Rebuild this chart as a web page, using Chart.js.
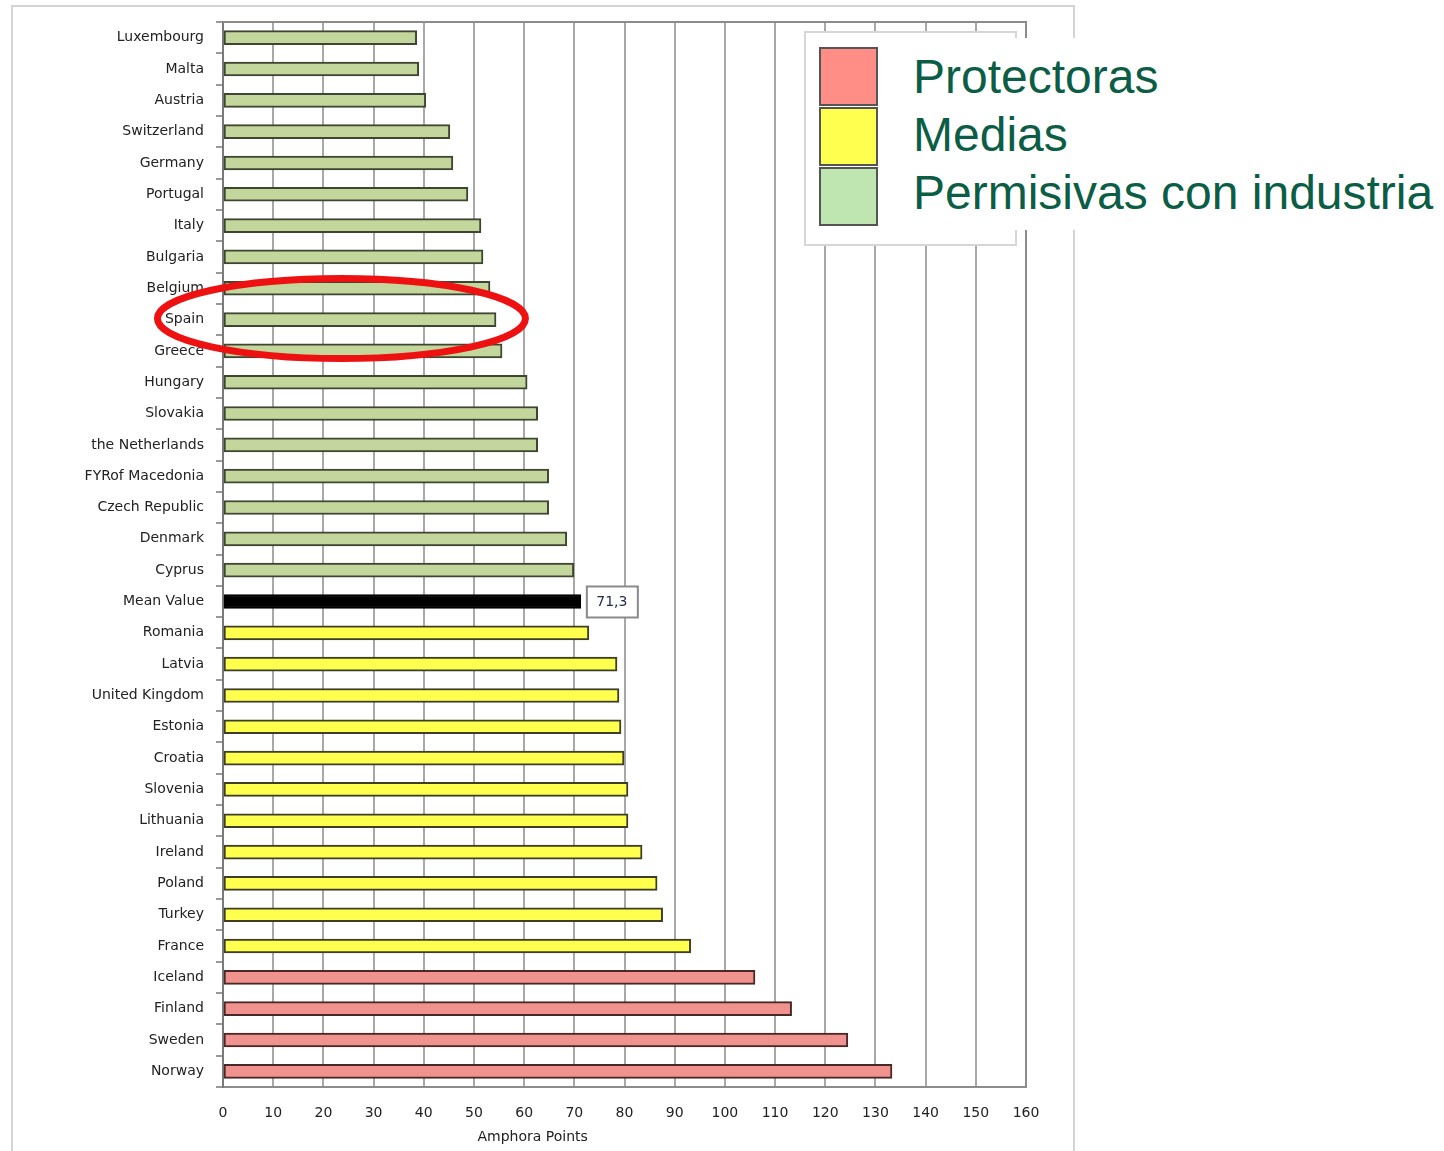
<!DOCTYPE html>
<html>
<head>
<meta charset="utf-8">
<script src="https://cdn.jsdelivr.net/npm/chart.js@4/dist/chart.umd.min.js"></script>
<style>
  body { margin: 0; background: #fff; }
  #wrap { position: relative; width: 1444px; height: 1151px; overflow: hidden; }
  #frame { position: absolute; left: 11px; top: 5px; width: 1060px; height: 1160px; border: 2px solid #d4d4d4; }
  canvas { position: absolute; left: 0; top: 0; }
  #legBox { position: absolute; left: 804px; top: 31px; width: 209px; height: 211px; border: 2px solid #d6d6d6; background: #fff; }
  #legText { position: absolute; left: 900px; top: 38px; width: 540px; height: 192px; background: #fff; }
  .sw { position: absolute; left: 819px; width: 55px; height: 55px; border: 2px solid #555; }
  .lt { position: absolute; left: 913px; font: 48px "Liberation Sans", Arial, sans-serif; color: #0b5e45; line-height: 58px; white-space: nowrap; }
</style>
</head>
<body>
<div id="wrap">
  <div id="frame"></div>
  <canvas id="myChart" width="1444" height="1151"></canvas>
  <div id="legBox"></div>
  <div id="legText"></div>
  <div class="sw" style="top:47px;background:#ff8f86"></div>
  <div class="sw" style="top:107px;background:#ffff50"></div>
  <div class="sw" style="top:167px;background:#bfe6b0"></div>
  <div class="lt" style="top:48px">Protectoras</div>
  <div class="lt" style="top:106px">Medias</div>
  <div class="lt" style="top:164px">Permisivas con industria</div>
</div>
<script>
const countries = [
  'Luxembourg', 'Malta', 'Austria', 'Switzerland', 'Germany', 'Portugal',
  'Italy', 'Bulgaria', 'Belgium', 'Spain', 'Greece', 'Hungary', 'Slovakia',
  'the Netherlands', 'FYRof Macedonia', 'Czech Republic', 'Denmark', 'Cyprus',
  'Mean Value', 'Romania', 'Latvia', 'United Kingdom', 'Estonia', 'Croatia',
  'Slovenia', 'Lithuania', 'Ireland', 'Poland', 'Turkey', 'France',
  'Iceland', 'Finland', 'Sweden', 'Norway'
];

const points = [
  38.6, 39.0, 40.4, 45.2, 45.8, 48.8,
  51.4, 51.8, 53.2, 54.4, 55.6, 60.6, 62.7,
  62.7, 64.9, 64.9, 68.5, 69.9,
  71.3, 72.9, 78.5, 78.9, 79.3, 79.9,
  80.7, 80.7, 83.5, 86.5, 87.6, 93.2,
  106.0, 113.3, 124.5, 133.3
];

// p = permisivas, m = medias, r = protectoras, x = mean
const groups = [
  'p', 'p', 'p', 'p', 'p', 'p',
  'p', 'p', 'p', 'p', 'p', 'p', 'p',
  'p', 'p', 'p', 'p', 'p',
  'x', 'm', 'm', 'm', 'm', 'm',
  'm', 'm', 'm', 'm', 'm', 'm',
  'r', 'r', 'r', 'r'
];

const xTicks = [0, 10, 20, 30, 40, 50, 60, 70, 80, 90, 100, 110, 120, 130, 140, 150, 160];

const fill = { p: '#c3d69b', m: '#ffff4d', r: '#f0938f', x: '#000000' };
const edge = { p: '#3e4530', m: '#3e3e28', r: '#4a2828', x: '#000000' };

const extras = {
  id: 'extras',
  afterDraw(chart) {
    const ctx = chart.ctx;
    const a = chart.chartArea;
    const xs = chart.scales.x, ys = chart.scales.y;
    ctx.save();
    // plot frame top/right
    ctx.strokeStyle = '#8c8c8c';
    ctx.lineWidth = 2;
    ctx.beginPath();
    ctx.moveTo(a.left, a.top); ctx.lineTo(a.right, a.top); ctx.lineTo(a.right, a.bottom);
    ctx.stroke();

    // mean value label box
    const mi = countries.indexOf('Mean Value');
    const my = ys.getPixelForValue(mi);
    const mx = xs.getPixelForValue(points[mi]);
    ctx.fillStyle = '#fff';
    ctx.strokeStyle = '#8a8a8a';
    ctx.lineWidth = 2;
    ctx.fillRect(mx + 6, my - 15, 51, 31);
    ctx.strokeRect(mx + 6, my - 15, 51, 31);
    ctx.fillStyle = '#1e2a4a';
    ctx.font = '14px "DejaVu Sans", sans-serif';
    ctx.textAlign = 'center';
    ctx.textBaseline = 'middle';
    ctx.fillText(String(points[mi]).replace('.', ','), mx + 31, my + 1);

    // axis title
    ctx.fillStyle = '#222';
    ctx.font = '14px "DejaVu Sans", sans-serif';
    ctx.fillText('Amphora Points', xs.getPixelForValue(61.7), 1137);

    // red ellipse round Spain
    const si = countries.indexOf('Spain');
    ctx.strokeStyle = '#ee1111';
    ctx.lineWidth = 7;
    ctx.beginPath();
    ctx.ellipse(xs.getPixelForValue(23.6), ys.getPixelForValue(si) - 1, 184, 40, 0, 0, Math.PI * 2);
    ctx.stroke();
    ctx.restore();
  }
};

const data = {
  labels: countries,
  datasets: [{
    data: points,
    backgroundColor: groups.map(g => fill[g]),
    borderColor: groups.map(g => edge[g]),
    borderWidth: 2,
    borderSkipped: false,
    barThickness: 14
  }]
};

const config = {
  type: 'bar',
  data: data,
  options: {
    indexAxis: 'y',
    responsive: false,
    animation: false,
    layout: { padding: { left: 0, top: 22, right: 418, bottom: 0 } },
    plugins: { legend: { display: false }, tooltip: { enabled: false } },
    scales: {
      x: {
        min: 0,
        max: 160,
        afterBuildTicks: s => { s.ticks = xTicks.map(v => ({ value: v })); },
        afterFit: s => { s.height = 64; },
        grid: { color: '#a8a8a8', lineWidth: 2, tickLength: 0 },
        border: { color: '#8c8c8c', width: 2 },
        ticks: { color: '#222', font: { family: 'DejaVu Sans', size: 14 }, padding: 18 }
      },
      y: {
        afterFit: s => { s.width = 223; },
        grid: { offset: true, drawOnChartArea: false, color: '#999', tickLength: 7, lineWidth: 2 },
        border: { color: '#7a7a7a', width: 2 },
        ticks: { color: '#222', font: { family: 'DejaVu Sans', size: 14 }, padding: 12, autoSkip: false }
      }
    }
  },
  plugins: [extras]
};

new Chart(document.getElementById('myChart'), config);
</script>
</body>
</html>
